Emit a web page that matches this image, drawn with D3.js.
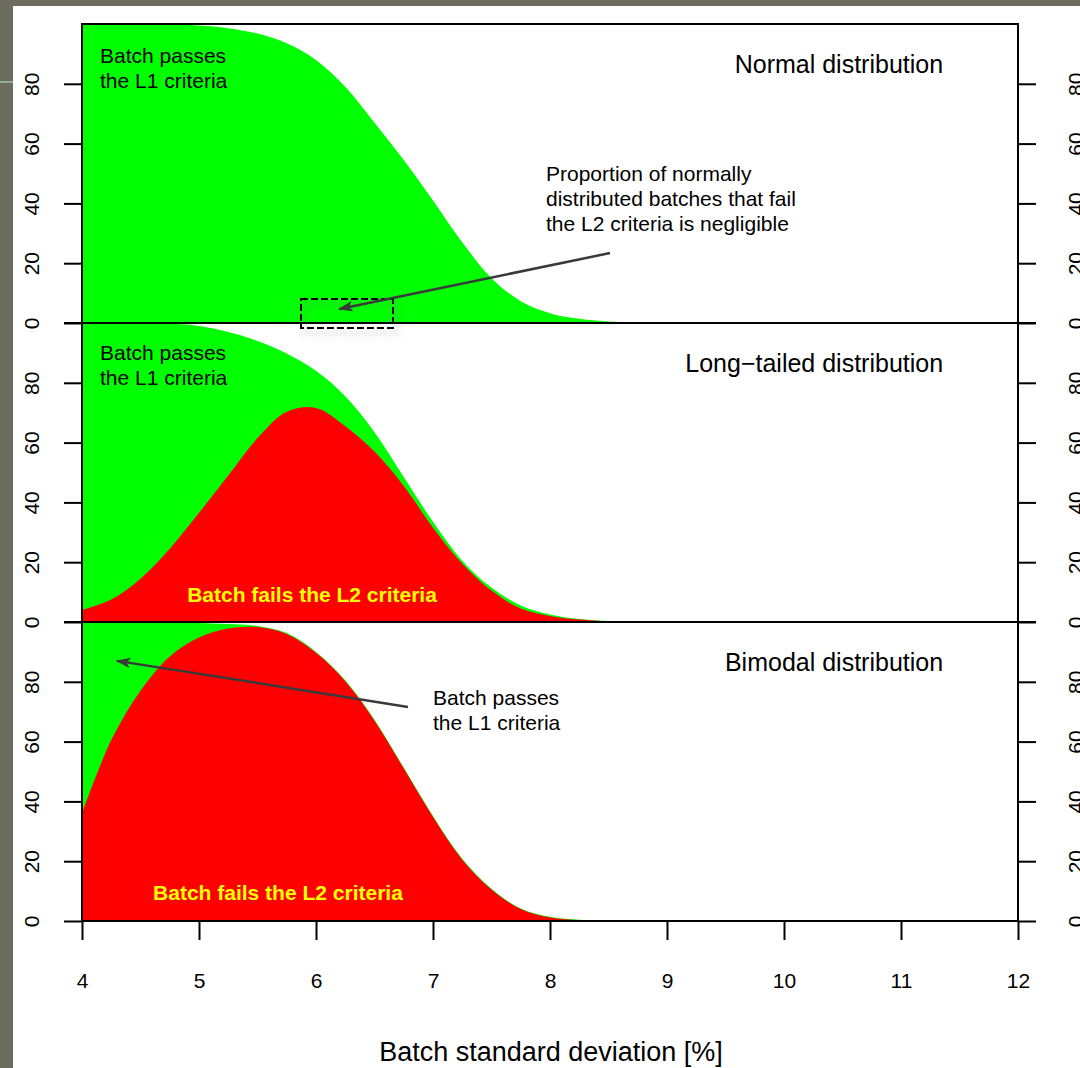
<!DOCTYPE html>
<html>
<head>
<meta charset="utf-8">
<script src="https://cdn.jsdelivr.net/npm/d3@7"></script>
<style>
  body { margin: 0; background: #6b6c5e; }
  svg { display: block; font-family: "Liberation Sans", Arial, sans-serif; }
</style>
</head>
<body>
<div id="chart"></div>
<script>
// batch standard deviation [%] at which the curves are sampled
const sdValues = [4, 4.25, 4.5, 4.75, 5, 5.25, 5.5, 5.75, 6, 6.25, 6.5, 6.75, 7, 7.25, 7.5, 7.75, 8, 8.25, 8.5, 8.75, 9, 12];

// % of batches passing L1 (green) and failing L2 (red) per distribution
const normalPassL1 = [100, 100, 100, 99.9, 99.5, 98.6, 96.8, 93.6, 88, 79, 67, 54.5, 41, 27, 15, 7.3, 3.3, 1.4, 0.5, 0.1, 0, 0];
const normalFailL2 = [0, 0, 0, 0, 0, 0, 0, 0, 0, 0, 0, 0, 0, 0, 0, 0, 0, 0, 0, 0, 0, 0];

const longPassL1 = [100, 100, 100, 99.8, 99, 97, 94, 89.8, 84, 75.5, 63.5, 48.5, 33.5, 20.5, 11.5, 5.5, 2.5, 1, 0.3, 0.05, 0, 0];
const longFailL2 = [4, 7.5, 14.5, 24.5, 36.5, 49, 61.5, 70.3, 71.6, 65.5, 57, 45.5, 31.5, 19.5, 10.5, 4.5, 2, 0.8, 0.2, 0, 0, 0];

const bimodalPassL1 = [100, 100, 100, 99.9, 99.7, 99.3, 98.7, 96.3, 90, 80.5, 67.3, 51.3, 35.1, 20.8, 10.8, 4.2, 1.4, 0.4, 0.05, 0, 0, 0];
const bimodalFailL2 = [36, 60.5, 77, 88.5, 94.8, 97.8, 98.3, 96, 89.7, 80.2, 67, 51, 34.8, 20.5, 10.5, 4, 1.2, 0.3, 0, 0, 0, 0];

const xTicks = [4, 5, 6, 7, 8, 9, 10, 11, 12];
const yTicks = [0, 20, 40, 60, 80];
const panelTitles = ["Normal distribution", "Long\u2212tailed distribution", "Bimodal distribution"];

const width = 1080, height = 1068;
const m = {left: 82, right: 1018, top: 24, bottom: 921};
const panelH = (m.bottom - m.top) / 3;
const font = 21;

const svg = d3.select('#chart').append('svg')
  .attr('width', width)
  .attr('height', height);

// slide background
svg.append('rect').attr('x', 13).attr('y', 6)
  .attr('width', width - 13).attr('height', height - 6)
  .attr('fill', 'white');
svg.append('line').attr('x1', 0).attr('x2', 13).attr('y1', 82).attr('y2', 82)
  .attr('stroke', '#8fae8c').attr('stroke-width', 2);

const x = d3.scaleLinear().domain([4, 12]).range([m.left, m.right]);

const panels = [
  {pass: normalPassL1, fail: normalFailL2, title: panelTitles[0]},
  {pass: longPassL1, fail: longFailL2, title: panelTitles[1]},
  {pass: bimodalPassL1, fail: bimodalFailL2, title: panelTitles[2]}
];

panels.forEach((p, i) => {
  const top = m.top + i * panelH;
  const y = d3.scaleLinear().domain([0, 100]).range([top + panelH, top]).clamp(true);
  p.y = y;

  const area = (vals) => d3.area()
    .curve(d3.curveCatmullRom.alpha(0.5))
    .x((d, k) => x(sdValues[k]))
    .y0(y(0))
    .y1((d) => y(d))(vals);

  const g = svg.append('g');
  g.append('path').attr('d', area(p.pass)).attr('fill', '#00ff00');
  if (d3.max(p.fail) > 0) {
    g.append('path').attr('d', area(p.fail)).attr('fill', '#ff0000');
  }

  // left and right axes
  const left = svg.append('g')
    .attr('transform', 'translate(' + m.left + ',0)')
    .call(d3.axisLeft(y).tickValues(yTicks).tickSize(18).tickSizeOuter(0));
  const right = svg.append('g')
    .attr('transform', 'translate(' + m.right + ',0)')
    .call(d3.axisRight(y).tickValues(yTicks).tickSize(18).tickSizeOuter(0));

  [[left, -43], [right, 65]].forEach(([ax, off]) => {
    ax.select('.domain').remove();
    ax.selectAll('line').attr('stroke', 'black').attr('stroke-width', 2);
    ax.selectAll('text')
      .attr('x', 0).attr('y', 0).attr('dy', 0)
      .attr('text-anchor', 'middle')
      .attr('transform', 'translate(' + off + ',0) rotate(-90)')
      .attr('font-size', font)
      .attr('font-family', '"Liberation Sans", Arial, sans-serif')
      .attr('fill', 'black');
  });

  // panel title
  svg.append('text')
    .attr('x', x(11.36)).attr('y', y(83.5))
    .attr('text-anchor', 'end')
    .attr('font-size', 25)
    .text(p.title);
});

// frame
svg.append('rect')
  .attr('x', m.left).attr('y', m.top)
  .attr('width', m.right - m.left).attr('height', m.bottom - m.top)
  .attr('fill', 'none').attr('stroke', 'black').attr('stroke-width', 2);
[1, 2].forEach((i) => {
  const yy = m.top + i * panelH;
  svg.append('line').attr('x1', m.left - 18).attr('x2', m.right + 18)
    .attr('y1', yy).attr('y2', yy)
    .attr('stroke', 'black').attr('stroke-width', 2);
});

// x axis
const xAxis = svg.append('g')
  .attr('transform', 'translate(0,' + m.bottom + ')')
  .call(d3.axisBottom(x).tickValues(xTicks).tickSize(19).tickSizeOuter(0).tickFormat(d3.format('d')));
xAxis.select('.domain').remove();
xAxis.selectAll('line').attr('stroke', 'black').attr('stroke-width', 2);
xAxis.selectAll('text')
  .attr('y', 67).attr('dy', 0)
  .attr('font-size', font)
  .attr('font-family', '"Liberation Sans", Arial, sans-serif')
  .attr('fill', 'black');

svg.append('text')
  .attr('x', (x(4) + x(12)) / 2 + 1).attr('y', 1061)
  .attr('text-anchor', 'middle')
  .attr('font-size', 27)
  .text('Batch standard deviation [%]');

// annotations
const defs = svg.append('defs');
defs.append('marker')
  .attr('id', 'head')
  .attr('viewBox', '0 0 10 7')
  .attr('refX', 9).attr('refY', 3.5)
  .attr('markerWidth', 6).attr('markerHeight', 4.2)
  .attr('markerUnits', 'strokeWidth')
  .attr('orient', 'auto')
  .append('path').attr('d', 'M0,0 L10,3.5 L0,7 L2.5,3.5 Z').attr('fill', '#3a3a3a');
defs.append('filter').attr('id', 'shadow')
  .attr('x', '-20%').attr('y', '-40%').attr('width', '150%').attr('height', '200%')
  .append('feDropShadow')
  .attr('dx', 4).attr('dy', 5).attr('stdDeviation', 3)
  .attr('flood-color', '#777').attr('flood-opacity', 0.5);

function multiline (xv, yv, y, lines, opts = {}) {
  const t = svg.append('text')
    .attr('x', x(xv)).attr('y', y(yv))
    .attr('font-size', opts.size || font)
    .attr('font-weight', opts.bold ? 'bold' : null)
    .attr('text-anchor', opts.anchor || 'start')
    .attr('fill', opts.color || 'black');
  lines.forEach((l, k) => {
    t.append('tspan').attr('x', x(xv)).attr('dy', k ? 25 : 0).text(l);
  });
}

function arrow (x1, v1, x2, v2, y) {
  svg.append('line')
    .attr('x1', x(x1)).attr('y1', y(v1))
    .attr('x2', x(x2)).attr('y2', y(v2))
    .attr('stroke', '#3a3a3a').attr('stroke-width', 2.5)
    .attr('marker-end', 'url(#head)');
}

const [p1, p2, p3] = panels;

multiline(4.154, 87, p1.y, ['Batch passes', 'the L1 criteria']);
multiline(7.966, 47.5, p1.y, ['Proportion of normally', 'distributed batches that fail', 'the L2 criteria is negligible']);
const boxY = d3.scaleLinear().domain([0, 100]).range([m.top + panelH, m.top]);
svg.append('rect')
  .attr('x', x(5.872)).attr('y', boxY(8))
  .attr('width', x(6.658) - x(5.872)).attr('height', boxY(-1.7) - boxY(8))
  .attr('fill', 'none').attr('stroke', 'black').attr('stroke-width', 2)
  .attr('stroke-dasharray', '7,3')
  .attr('filter', 'url(#shadow)');
arrow(8.513, 23.4, 6.2, 4.7, p1.y);

multiline(4.154, 87.6, p2.y, ['Batch passes', 'the L1 criteria']);
multiline(5.966, 6.7, p2.y, ['Batch fails the L2 criteria'], {bold: true, color: '#ffff00', anchor: 'middle'});

multiline(7.0, 72.2, p3.y, ['Batch passes', 'the L1 criteria']);
arrow(6.786, 71.6, 4.3, 87, p3.y);
multiline(5.675, 7.0, p3.y, ['Batch fails the L2 criteria'], {bold: true, color: '#ffff00', anchor: 'middle'});
</script>
</body>
</html>
